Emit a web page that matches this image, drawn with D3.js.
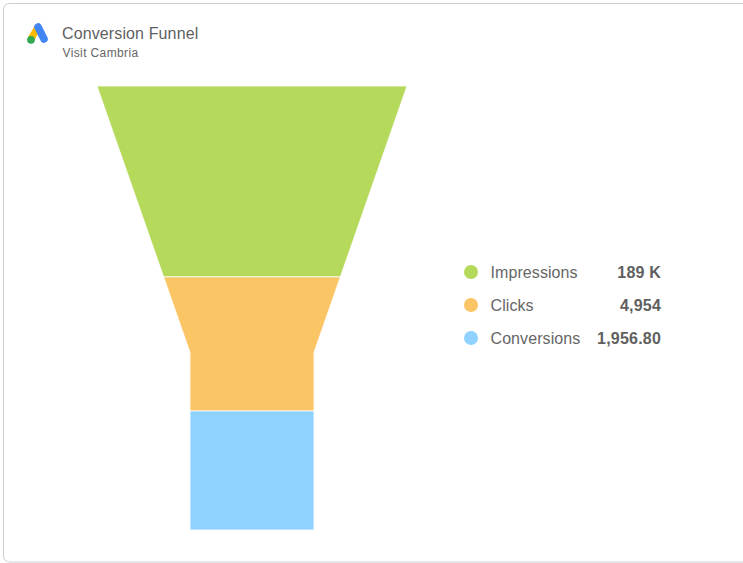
<!DOCTYPE html>
<html><head><meta charset="utf-8">
<script src="https://cdn.jsdelivr.net/npm/d3@7"></script>
<style>html,body{margin:0;padding:0;background:#fff;overflow:hidden}svg{display:block}text{font-family:"Liberation Sans",Arial,sans-serif}</style>
</head><body><svg id="c" width="743" height="563"></svg>
<script>
const categories = ["Impressions","Clicks","Conversions"];
const valueLabels = ["189 K","4,954","1,956.80"];
const funnelShares = [0.430,0.302,0.268];
const colors = ["#b5d95a","#fbc465","#8fd2ff"];
const titleText = "Conversion Funnel";
const subtitleText = "Visit Cambria";

const svg = d3.select("#c");
svg.append("rect").attr("x",3.5).attr("y",3.5).attr("width",800).attr("height",558.5).attr("rx",6)
  .attr("fill","#fff").attr("stroke","#c9ced6");

// logo
const logo = svg.append("g").attr("transform","translate(27,23)");
logo.append("line").attr("x1",11).attr("y1",4).attr("x2",4).attr("y2",16).attr("stroke","#fbbc04").attr("stroke-width",7);
logo.append("line").attr("x1",11).attr("y1",4).attr("x2",17).attr("y2",16).attr("stroke","#4285f4").attr("stroke-width",7.5).attr("stroke-linecap","round");
logo.append("circle").attr("cx",4).attr("cy",16.8).attr("r",3.9).attr("fill","#34a853");

svg.append("text").attr("x",62).attr("y",39).attr("font-size",16).attr("letter-spacing",0.12).attr("fill","#5f5f5f").text(titleText);
svg.append("text").attr("x",62.5).attr("y",57).attr("font-size",12).attr("letter-spacing",0.38).attr("fill","#666").text(subtitleText);

// funnel
const yTop=86,yBottom=530,cx=252;
const yS=d3.scaleLinear().domain([0,1]).range([yTop,yBottom]);
const wS=d3.scaleLinear().domain([0,0.6,1]).range([310,124,124]);
let cum=0;
funnelShares.forEach((s,i)=>{
  const a=cum,b=cum+s;cum=b;
  const pts=[a];
  if(a<0.6&&b>0.6)pts.push(0.6);
  pts.push(b);
  const right=pts.map(t=>[cx+wS(t)/2,yS(t)]);
  const left=pts.slice().reverse().map(t=>[cx-wS(t)/2,yS(t)]);
  svg.append("path").attr("d",d3.line()(right.concat(left))+"Z")
    .attr("fill",colors[i]).attr("stroke","#fff").attr("stroke-opacity",0.8).attr("stroke-width",1);
});

// legend
const lY=d3.scalePoint().domain(categories).range([272,338]);
categories.forEach((c,i)=>{
  const y=lY(c);
  svg.append("circle").attr("cx",471).attr("cy",y).attr("r",7).attr("fill",colors[i]);
  svg.append("text").attr("x",490.5).attr("y",y+5.5).attr("font-size",16).attr("letter-spacing",0.08).attr("fill","#666").text(c);
  svg.append("text").attr("x",661).attr("y",y+5.5).attr("text-anchor","end").attr("font-size",16).attr("font-weight","bold").attr("letter-spacing",0.2).attr("fill","#5f5f5f").text(valueLabels[i]);
});
</script></body></html>
